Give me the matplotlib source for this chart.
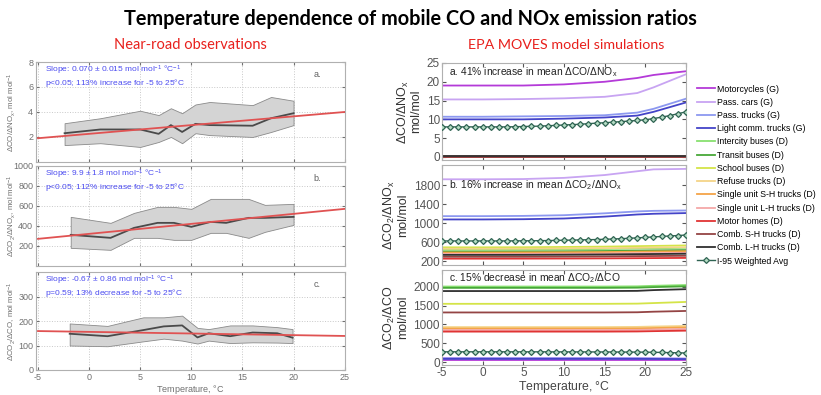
import numpy as np
import matplotlib
matplotlib.use("Agg")
import matplotlib.pyplot as plt

# ---- near-road observations (left) ----
fit_t = [-5, 25]
fit_a = [1.9, 4.0]
fit_b = [270, 570]
fit_c = [159, 139]

obs_t_a = [-2.4, 1.1, 5.0, 6.8, 8.0, 9.1, 10.4, 11.8, 16.0, 17.8, 20.0]
med_a = [2.3, 2.6, 2.6, 2.25, 2.95, 2.4, 3.05, 2.95, 2.9, 3.5, 3.9]
hi_a = [3.1, 3.5, 4.1, 3.75, 4.3, 3.9, 4.6, 4.8, 4.55, 5.2, 4.9]
lo_a = [1.35, 1.5, 1.2, 1.6, 2.0, 1.5, 2.3, 2.15, 2.0, 2.4, 2.95]

obs_t_b = [-1.8, 2.1, 4.4, 6.7, 8.3, 10.0, 11.9, 13.4, 15.6, 17.2, 20.0]
med_b = [310, 280, 380, 430, 430, 390, 440, 430, 480, 480, 490]
hi_b = [490, 430, 530, 590, 590, 570, 670, 670, 670, 610, 620]
lo_b = [180, 160, 280, 280, 260, 260, 330, 330, 280, 340, 410]

obs_t_c = [-1.9, 1.8, 5.3, 7.3, 9.1, 10.6, 11.7, 13.8, 16.0, 18.4, 19.9]
med_c = [148, 138, 163, 178, 182, 133, 150, 138, 153, 150, 132]
hi_c = [190, 180, 215, 215, 222, 172, 167, 182, 182, 175, 167]
lo_c = [100, 97, 117, 128, 120, 108, 120, 110, 113, 112, 110]

slope_txt = ["Slope: 0.070 $\\pm$ 0.015 mol mol$^{-1}$ $\\degree$C$^{-1}$",
             "Slope: 9.9 $\\pm$ 1.8 mol mol$^{-1}$ $\\degree$C$^{-1}$",
             "Slope: -0.67 $\\pm$ 0.86 mol mol$^{-1}$ $\\degree$C$^{-1}$"]
p_txt = ["p<0.05; 113% increase for -5 to 25$\\degree$C",
         "p<0.05; 112% increase for -5 to 25$\\degree$C",
         "p=0.59; 13% decrease for -5 to 25$\\degree$C"]
left_ylabels = ["$\\Delta$CO/$\\Delta$NO$_x$, mol mol$^{-1}$",
                "$\\Delta$CO$_2$/$\\Delta$NO$_x$, mol mol$^{-1}$",
                "$\\Delta$CO$_2$/$\\Delta$CO, mol mol$^{-1}$"]

# ---- EPA MOVES simulations (right) ----
vehicles = ["Motorcycles (G)", "Pass. cars (G)", "Pass. trucks (G)", "Light comm. trucks (G)",
            "Intercity buses (D)", "Transit buses (D)", "School buses (D)", "Refuse trucks (D)",
            "Single unit S-H trucks (D)", "Single unit L-H trucks (D)", "Motor homes (D)",
            "Comb. S-H trucks (D)", "Comb. L-H trucks (D)"]
veh_colors = ["#b43ad8", "#c8a4f2", "#8c98f0", "#4444c8", "#88e070", "#48a838", "#d4e448",
              "#f4d488", "#f4a448", "#f4a8a8", "#e03434", "#944444", "#303030"]

t_moves = [-5, 0, 5, 10, 15, 19, 21, 25]
co_nox = [
    [19.0, 19.0, 19.0, 19.3, 20.0, 21.0, 21.8, 22.8],
    [15.3, 15.3, 15.4, 15.6, 16.0, 17.0, 18.5, 22.0],
    [10.7, 10.7, 10.8, 10.9, 11.1, 11.8, 12.8, 15.5],
    [10.0, 10.0, 10.0, 10.2, 10.5, 11.0, 12.0, 14.5],
    [0.15, 0.15, 0.15, 0.15, 0.15, 0.15, 0.15, 0.15],
    [0.15, 0.15, 0.15, 0.15, 0.15, 0.15, 0.15, 0.15],
    [0.15, 0.15, 0.15, 0.15, 0.15, 0.15, 0.15, 0.15],
    [0.15, 0.15, 0.15, 0.15, 0.15, 0.15, 0.15, 0.15],
    [0.15, 0.15, 0.15, 0.15, 0.15, 0.15, 0.15, 0.15],
    [0.15, 0.15, 0.15, 0.15, 0.15, 0.15, 0.15, 0.15],
    [-0.1, -0.1, -0.1, -0.1, -0.1, -0.1, -0.1, -0.1],
    [0.1, 0.1, 0.1, 0.1, 0.1, 0.1, 0.1, 0.1],
    [0.3, 0.3, 0.3, 0.3, 0.3, 0.3, 0.3, 0.3],
]
co2_nox = [
    None,
    [1930, 1930, 1935, 1960, 2020, 2100, 2140, 2150],
    [1150, 1150, 1155, 1170, 1210, 1250, 1262, 1270],
    [1080, 1080, 1085, 1100, 1140, 1185, 1200, 1215],
    [440, 440, 442, 448, 455, 465, 470, 480],
    [400, 400, 402, 406, 412, 420, 425, 432],
    [490, 490, 492, 498, 505, 515, 520, 530],
    [460, 460, 462, 466, 472, 480, 485, 492],
    [380, 380, 382, 385, 390, 398, 402, 408],
    [350, 350, 351, 354, 358, 365, 368, 373],
    [250, 250, 251, 253, 256, 260, 262, 266],
    [290, 290, 291, 294, 298, 304, 306, 311],
    [330, 330, 331, 334, 339, 345, 348, 354],
]
co2_co = [
    [55, 55, 55, 55, 55, 55, 55, 55],
    [110, 110, 110, 110, 110, 108, 105, 95],
    [95, 95, 95, 95, 95, 94, 92, 85],
    [85, 85, 85, 85, 85, 84, 82, 78],
    [2010, 2010, 2010, 2010, 2010, 2015, 2030, 2050],
    [1975, 1975, 1975, 1975, 1975, 1980, 1995, 2015],
    [1550, 1550, 1550, 1550, 1550, 1555, 1570, 1600],
    [930, 930, 930, 930, 930, 935, 945, 960],
    [890, 890, 890, 890, 890, 895, 905, 920],
    [850, 850, 850, 850, 850, 855, 865, 880],
    [810, 810, 810, 810, 810, 814, 822, 835],
    [1320, 1320, 1320, 1320, 1320, 1325, 1340, 1360],
    [1890, 1890, 1890, 1890, 1890, 1895, 1915, 1940],
]

t_avg = list(range(-5, 26))
avg_a = [8.0, 8.0, 8.0, 8.0, 8.0, 8.0, 8.0, 8.0, 8.0, 8.05, 8.1, 8.15, 8.2, 8.3, 8.4, 8.5,
         8.6, 8.7, 8.85, 9.0, 9.1, 9.25, 9.4, 9.55, 9.7, 9.9, 10.2, 10.6, 11.0, 11.5, 12.0]
avg_b = [625, 625, 625, 625, 625, 625, 625, 625, 626, 627, 628, 629, 631, 633, 636, 640,
         643, 647, 651, 655, 660, 666, 673, 681, 690, 700, 710, 720, 730, 740, 750]
avg_c = [272, 272, 272, 272, 272, 272, 272, 272, 272, 272, 271, 271, 271, 271, 270, 270,
         270, 269, 269, 268, 268, 267, 266, 265, 264, 262, 259, 255, 250, 245, 240]

right_texts = ["a. 41% increase in mean $\\Delta$CO/$\\Delta$NO$_x$",
               "b. 16% increase in mean $\\Delta$CO$_2$/$\\Delta$NO$_x$",
               "c. 15% decrease in mean $\\Delta$CO$_2$/$\\Delta$CO"]
right_text_y = [0.91, 0.80, 0.91]
right_ylabels = ["$\\Delta$CO/$\\Delta$NO$_x$\nmol/mol",
                 "$\\Delta$CO$_2$/$\\Delta$NO$_x$\nmol/mol",
                 "$\\Delta$CO$_2$/$\\Delta$CO\nmol/mol"]

plt.rcParams['font.family'] = ['Liberation Sans', 'DejaVu Sans']
plt.rcParams['axes.unicode_minus'] = False
plt.rcParams['mathtext.fontset'] = 'custom'
plt.rcParams['mathtext.rm'] = 'Liberation Sans'
plt.rcParams['mathtext.it'] = 'Liberation Sans'

fig = plt.figure(figsize=(8.21, 3.95), dpi=100)
fig.text(0.5, 0.953, "Temperature dependence of mobile CO and NOx emission ratios",
         ha='center', va='center', fontsize=14.3, fontweight='bold', family='Lato')
fig.text(0.232, 0.885, "Near-road observations", ha='center', va='center',
         fontsize=10.5, color='#e8201c', family='Lato')
fig.text(0.69, 0.885, "EPA MOVES model simulations", ha='center', va='center',
         fontsize=10.3, color='#e8201c', family='Lato')

# left column
gray = '#707070'
left_pos = [[0.0438, 0.590, 0.376, 0.253], [0.0438, 0.327, 0.376, 0.253], [0.0438, 0.0633, 0.376, 0.248]]
left_data = [(obs_t_a, med_a, hi_a, lo_a, fit_a, (0, 8), [2, 4, 6, 8]),
             (obs_t_b, med_b, hi_b, lo_b, fit_b, (0, 1000), [200, 400, 600, 800, 1000]),
             (obs_t_c, med_c, hi_c, lo_c, fit_c, (0, 400), [0, 100, 200, 300])]
for i, (tt, med, hi, lo, fit, ylim, yt) in enumerate(left_data):
    ax = fig.add_axes(left_pos[i])
    ax.fill_between(tt, lo, hi, facecolor='#d4d4d4', edgecolor='#8a8a8a', lw=0.6, zorder=2)
    ax.plot(tt, med, color='#4a4a4a', lw=1.3, zorder=3)
    ax.plot(fit_t, fit, color='#e05252', lw=1.3, zorder=4)
    ax.set_xlim(-5.2, 25)
    ax.set_ylim(*ylim)
    ax.set_yticks(yt)
    ax.set_xticks([-5, 0, 5, 10, 15, 20, 25])
    ax.grid(True, ls=':', color='#c8c8c8', lw=0.7, zorder=0)
    ax.tick_params(direction='in', labelsize=6.5, colors=gray, length=2, right=True,
                   top=True, pad=2)
    for sp in ax.spines.values():
        sp.set_color('#b0b0b0')
    if i < 2:
        ax.tick_params(labelbottom=False)
    else:
        ax.set_xlabel("Temperature, $\\degree$C", fontsize=6.5, color=gray, labelpad=1)
    ax.set_ylabel(left_ylabels[i], fontsize=5.7, color=gray)
    ax.yaxis.set_label_coords(-0.058, 0.5)
    ax.text(0.03, 0.92, slope_txt[i], transform=ax.transAxes, fontsize=6.0,
            color='#4c4cf0', va='center')
    ax.text(0.03, 0.79, p_txt[i], transform=ax.transAxes, fontsize=6.0,
            color='#4c4cf0', va='center')
    ax.text(0.9, 0.92, "abc"[i] + ".", transform=ax.transAxes, fontsize=6.5,
            color='#606060', va='top')

# right column
right_pos = [[0.5384, 0.595, 0.2972, 0.2456], [0.5384, 0.329, 0.2972, 0.253], [0.5384, 0.0759, 0.2972, 0.2405]]
right_data = [(co_nox, avg_a, (-0.8, 25), [0, 5, 10, 15, 20, 25]),
              (co2_nox, avg_b, (115, 2230), [200, 600, 1000, 1400, 1800]),
              (co2_co, avg_c, (-80, 2450), [0, 500, 1000, 1500, 2000])]
handles = []
for i, (rows, avg, ylim, yt) in enumerate(right_data):
    ax = fig.add_axes(right_pos[i])
    for j, row in enumerate(rows):
        if row is None:
            continue
        h, = ax.plot(t_moves, row, color=veh_colors[j], lw=1.3, label=vehicles[j])
        if i == 0:
            handles.append(h)
    h, = ax.plot(t_avg, avg, color='#2f6352', lw=1.0, marker='D', ms=3.0,
                 mfc='#b4dcc4', mec='#2f6352', mew=0.9, label="I-95 Weighted Avg", zorder=5)
    if i == 0:
        handles.append(h)
    ax.set_xlim(-5, 25)
    ax.set_ylim(*ylim)
    ax.set_yticks(yt)
    ax.set_xticks([-5, 0, 5, 10, 15, 20, 25])
    ax.tick_params(direction='in', labelsize=8.5, colors='#555555', length=3,
                   right=True, top=True, pad=1.5)
    for sp in ax.spines.values():
        sp.set_color('#b0b0b0')
    if i < 2:
        ax.tick_params(labelbottom=False)
    else:
        ax.set_xlabel("Temperature, $\\degree$C", fontsize=8.8, color='#444444', labelpad=0)
    ax.set_ylabel(right_ylabels[i], fontsize=9, color='#333333', labelpad=3, linespacing=1.0)
    ax.text(0.03, right_text_y[i], right_texts[i], transform=ax.transAxes, fontsize=7.4,
            color='#222222', va='center')

fig.legend(handles=handles, loc='upper left', bbox_to_anchor=(0.845, 0.795), frameon=False,
           fontsize=6.35, handlelength=2.0, handletextpad=0.2,
           labelspacing=0.48, borderaxespad=0)

fig.savefig("out.png", dpi=100)
